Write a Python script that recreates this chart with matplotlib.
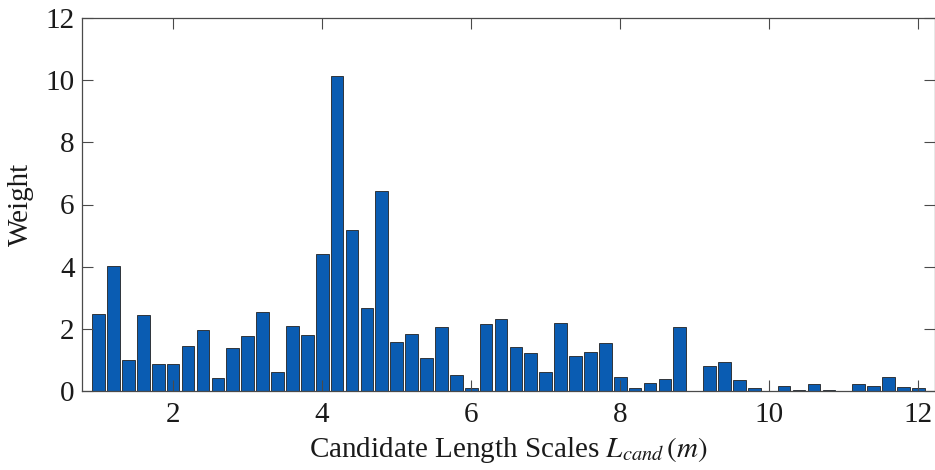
import numpy as np
import matplotlib
matplotlib.use("Agg")
import matplotlib.pyplot as plt

# candidate length scales (m) and their weights
scales = np.round(np.arange(1.0, 12.01, 0.2), 1)
weights = [
    2.49, 4.01, 0.99, 2.44, 0.87, 0.87, 1.44, 1.97, 0.42, 1.38,
    1.76, 2.55, 0.62, 2.09, 1.79, 4.40, 10.14, 5.17, 2.67, 6.42,
    1.59, 1.82, 1.05, 2.06, 0.53, 0.09, 2.16, 2.33, 1.41, 1.23,
    0.61, 2.20, 1.12, 1.26, 1.56, 0.45, 0.10, 0.26, 0.40, 2.05,
    0.00, 0.82, 0.94, 0.35, 0.10, 0.00, 0.16, 0.03, 0.21, 0.04,
    0.00, 0.24, 0.16, 0.45, 0.12, 0.10,
]
xticks = [2, 4, 6, 8, 10, 12]
yticks = [0, 2, 4, 6, 8, 10, 12]

BAR = "#0a5cb2"
AXIS = "#4a4a4a"
INK = "#1a1a1a"

plt.rcParams.update({
    "font.family": ["Liberation Serif", "DejaVu Serif"],
    "mathtext.fontset": "stix",
    "font.size": 21,
})

fig = plt.figure(figsize=(9.35, 4.7), dpi=100)
ax = fig.add_axes([81.5 / 935, 1 - 391 / 470, (935.4 - 81.5) / 935, (391 - 18) / 470])

ax.bar(scales, weights, width=0.17, color=BAR, edgecolor="#222222", linewidth=0.6)

ax.set_xlim(0.77, 12.23)
ax.set_ylim(0, 12)
ax.set_xticks(xticks)
ax.set_yticks(yticks)
ax.tick_params(direction="in", length=8, width=0.8, color=AXIS,
               labelcolor=INK, labelsize=21, top=True, right=True, pad=5)
ax.tick_params(axis="x", pad=8)
for s in ax.spines.values():
    s.set_color(AXIS)
    s.set_linewidth(0.9)

ax.set_xlabel(r"Candidate Length Scales $L_{cand}\,(m)$", fontsize=21, color=INK, labelpad=5)
ax.set_ylabel("Weight", fontsize=21, color=INK, labelpad=8)

fig.savefig("out.png", dpi=100)
